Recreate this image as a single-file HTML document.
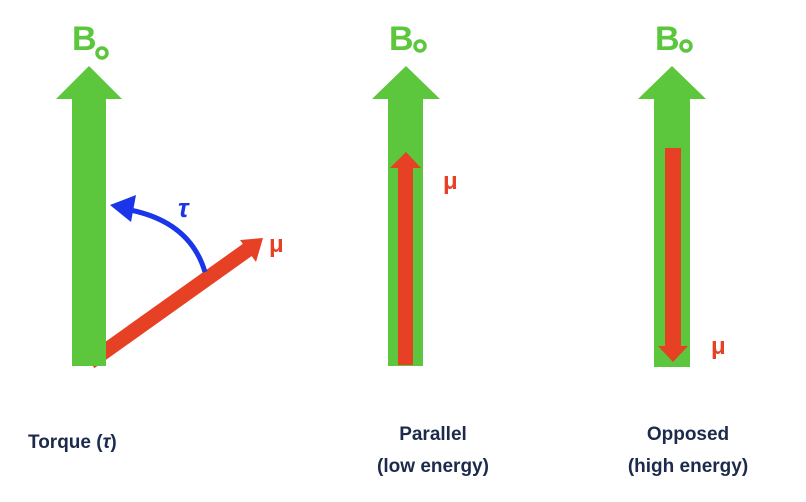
<!DOCTYPE html>
<html><head><meta charset="utf-8"><style>
body{margin:0;background:#fff;}
svg{display:block;font-family:"Liberation Sans",sans-serif;}
</style></head><body>
<svg width="806" height="502" viewBox="0 0 806 502">
<g>
 <text x="72" y="50" font-size="34" font-weight="bold" fill="#5cc63c">B</text>
 <circle cx="102" cy="53" r="5" fill="none" stroke="#5cc63c" stroke-width="3.5"/>
 <line x1="90" y1="362" x2="250" y2="248" stroke="#e64124" stroke-width="15"/>
 <polygon points="263,238 240,240 256,262" fill="#e64124"/>
 <polygon points="89,66 122,99 106,99 106,366 72,366 72,99 56,99" fill="#5cc63c"/>
 <text x="269" y="252" font-size="24" font-weight="bold" fill="#e64124">μ</text>
 <path d="M205,272 Q190,222 130,210" fill="none" stroke="#1a36e8" stroke-width="5"/>
 <polygon points="110,205 136,195 131,222" fill="#1a36e8"/>
 <text x="178" y="217" font-size="26" font-weight="bold" font-style="italic" fill="#1a36e8">τ</text>
 <text x="28" y="448" font-size="19" font-weight="bold" fill="#1c2b4c">Torque (<tspan font-style="italic">τ</tspan>)</text>
</g>
<g>
 <text x="389" y="50" font-size="34" font-weight="bold" fill="#5cc63c">B</text>
 <circle cx="420" cy="46" r="5" fill="none" stroke="#5cc63c" stroke-width="3.5"/>
 <polygon points="406,66 440,99 423,99 423,366 388,366 388,99 372,99" fill="#5cc63c"/>
 <polygon points="406,152 421,168 413,168 413,365 398,365 398,168 390,168" fill="#e64124"/>
 <text x="443" y="189" font-size="24" font-weight="bold" fill="#e64124">μ</text>
 <text x="433" y="440" font-size="19" font-weight="bold" fill="#1c2b4c" text-anchor="middle">Parallel</text>
 <text x="433" y="472" font-size="19" font-weight="bold" fill="#1c2b4c" text-anchor="middle">(low energy)</text>
</g>
<g>
 <text x="655" y="50" font-size="34" font-weight="bold" fill="#5cc63c">B</text>
 <circle cx="686" cy="46" r="5" fill="none" stroke="#5cc63c" stroke-width="3.5"/>
 <polygon points="672,66 706,99 690,99 690,367 654,367 654,99 638,99" fill="#5cc63c"/>
 <polygon points="665,148 681,148 681,346 688,346 673,362 658,346 665,346" fill="#e64124"/>
 <text x="711" y="354" font-size="24" font-weight="bold" fill="#e64124">μ</text>
 <text x="688" y="440" font-size="19" font-weight="bold" fill="#1c2b4c" text-anchor="middle">Opposed</text>
 <text x="688" y="472" font-size="19" font-weight="bold" fill="#1c2b4c" text-anchor="middle">(high energy)</text>
</g>
</svg>
</body></html>
